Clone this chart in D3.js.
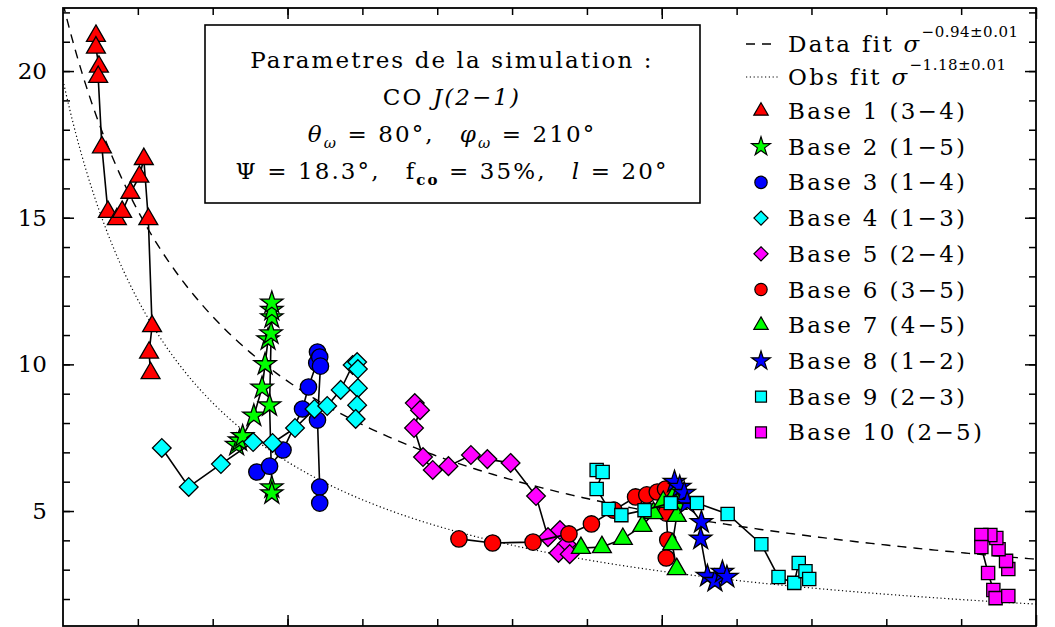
<!DOCTYPE html>
<html>
<head>
<meta charset="utf-8">
<script src="https://cdn.jsdelivr.net/npm/d3@7"></script>
<style>
  html, body { margin: 0; padding: 0; background: #fff; }
  svg { display: block; }
  text { font-family: "DejaVu Serif", serif; fill: #000; }
</style>
</head>
<body>
<svg id="chart" width="1055" height="627"></svg>
<script>
// ---- data: velocity dispersion tracks per baseline ([x, value]) ----
const base1 = [[2.44,21.2],[2.44,20.8],[2.48,20.15],[2.47,19.8],[2.52,17.4],[2.60,15.2],[2.72,14.95],[2.79,15.2],[2.90,15.85],[3.02,16.4],[3.08,17.0],[3.14,14.95],[3.19,11.3],[3.15,10.4],[3.17,9.7]];
const base2 = [[4.32,7.25],[4.36,7.4],[4.40,7.55],[4.55,8.25],[4.66,9.2],[4.70,10.0],[4.74,10.85],[4.78,11.05],[4.79,11.6],[4.79,11.85],[4.79,12.1],[4.76,8.6],[4.79,5.8],[4.79,5.6]];
const base3 = [[4.59,6.33],[4.76,6.53],[4.94,7.08],[5.20,8.48],[5.28,9.23],[5.39,10.05],[5.40,10.42],[5.43,10.25],[5.44,9.94],[5.40,8.10],[5.43,5.82],[5.43,5.27]];
const base4 = [[3.32,7.15],[3.68,5.82],[4.11,6.60],[4.54,7.35],[4.80,7.32],[5.10,7.83],[5.36,8.48],[5.53,8.58],[5.71,9.13],[5.87,9.98],[5.93,10.08],[5.94,9.84],[5.94,9.19],[5.93,8.61],[5.91,8.14]];
const base5 = [[6.70,8.68],[6.77,8.44],[6.69,7.83],[6.81,6.84],[6.94,6.40],[7.15,6.53],[7.45,6.91],[7.67,6.77],[7.98,6.64],[8.32,5.51],[8.48,4.11],[8.64,4.35],[8.73,3.87],[8.62,3.57],[8.77,3.53]];
const base6 = [[7.29,4.05],[7.74,3.91],[8.28,3.94],[8.76,4.22],[9.06,4.56],[9.36,5.03],[9.65,5.48],[9.80,5.55],[9.94,5.65],[10.05,5.75],[10.06,4.93],[10.08,4.01],[10.06,3.40]];
const base7 = [[8.92,3.74],[9.20,3.77],[9.48,4.05],[9.74,4.49],[9.89,4.93],[10.02,5.31],[10.18,5.61],[10.21,5.24],[10.20,4.83],[10.14,3.87],[10.20,3.02]];
const base8 = [[10.17,5.99],[10.24,5.82],[10.30,5.61],[10.34,5.27],[10.53,4.62],[10.52,4.05],[10.61,2.78],[10.71,2.61],[10.81,2.92],[10.87,2.75]];
const base9 = [[9.13,6.40],[9.21,6.33],[9.13,5.75],[9.29,5.07],[9.46,4.86],[9.77,5.03],[10.12,5.27],[10.47,5.27],[10.88,4.90],[11.33,3.87],[11.56,2.75],[11.77,2.55],[11.83,3.23],[11.92,2.95],[11.97,2.68]];
const base10 = [[14.63,3.02],[14.60,3.30],[14.50,3.70],[14.47,4.08],[14.39,4.18],[14.27,4.18],[14.27,3.77],[14.36,2.89],[14.43,2.31],[14.46,2.03],[14.63,2.10]];

const seriesLabels = ["Base 1 (3\u22124)","Base 2 (1\u22125)","Base 3 (1\u22124)","Base 4 (1\u22123)","Base 5 (2\u22124)",
                      "Base 6 (3\u22125)","Base 7 (4\u22125)","Base 8 (1\u22122)","Base 9 (2\u22123)","Base 10 (2\u22125)"];
const seriesData = [base1, base2, base3, base4, base5, base6, base7, base8, base9, base10];

// power-law fits  value = amp * x^exp
const dataFitAmp = 42.8, dataFitExp = -0.94;
const obsFitAmp = 44.6, obsFitExp = -1.18;
const fitLabels = ["Data fit ", "Obs fit "];
const fitSupers = ["\u22120.94\u00b10.01", "\u22121.18\u00b10.01"];

const yMajorTicks = [5, 10, 15, 20];
const yMinorTicks = d3.range(2, 23);
const xMajorTicks = [5, 10, 15];
const xMinorTicks = d3.range(3, 15);

// ---- layout ----
const W = 1055, H = 627;
const plot = { left: 63, right: 1036, top: 8, bottom: 626 };

const svg = d3.select("#chart");
const x = d3.scaleLinear().domain([2, 15]).range([plot.left, plot.right]);
const y = d3.scaleLinear().domain([1.08, 22.15]).range([plot.bottom, plot.top]);

// marker shapes
const symDiamond = { draw(ctx, size) { const r = Math.sqrt(size / 2); ctx.moveTo(0, -r); ctx.lineTo(r, 0); ctx.lineTo(0, r); ctx.lineTo(-r, 0); ctx.closePath(); } };
const symSquare = { draw(ctx, size) { const h = Math.sqrt(size) / 2; ctx.rect(-h, -h, 2 * h, 2 * h); } };

const styles = [
  { type: d3.symbolTriangle, fill: "#ff0000", size: 155, lsize: 90 },
  { type: d3.symbolStar,     fill: "#00ff00", size: 155, lsize: 110 },
  { type: d3.symbolCircle,   fill: "#0000ff", size: 210, lsize: 120 },
  { type: symDiamond,        fill: "#00ffff", size: 175, lsize: 100 },
  { type: symDiamond,        fill: "#ff00ff", size: 175, lsize: 100 },
  { type: d3.symbolCircle,   fill: "#ff0000", size: 210, lsize: 120 },
  { type: d3.symbolTriangle, fill: "#00ff00", size: 155, lsize: 90 },
  { type: d3.symbolStar,     fill: "#0000ff", size: 155, lsize: 110 },
  { type: symSquare,         fill: "#00ffff", size: 175, lsize: 120 },
  { type: symSquare,         fill: "#ff00ff", size: 175, lsize: 120 }
];

svg.append("defs").append("clipPath").attr("id", "plotClip")
  .append("rect").attr("x", plot.left).attr("y", plot.top)
  .attr("width", plot.right - plot.left).attr("height", plot.bottom - plot.top);

// ---- fit curves ----
const fitX = d3.range(2, 15.001, 0.05);
const curve = (amp, ex) => d3.line().x(d => x(d)).y(d => y(amp * Math.pow(d, ex)));
const fits = svg.append("g").attr("clip-path", "url(#plotClip)");
fits.append("path").attr("d", curve(dataFitAmp, dataFitExp)(fitX))
  .attr("fill", "none").attr("stroke", "#000").attr("stroke-width", 1.4).attr("stroke-dasharray", "9,7");
fits.append("path").attr("d", curve(obsFitAmp, obsFitExp)(fitX))
  .attr("fill", "none").attr("stroke", "#000").attr("stroke-width", 1.2).attr("stroke-dasharray", "1.2,2.6");

// ---- tracks ----
const track = d3.line().x(d => x(d[0])).y(d => y(d[1]));
seriesData.forEach((data, i) => {
  const st = styles[i];
  const g = svg.append("g");
  g.append("path").attr("d", track(data)).attr("fill", "none").attr("stroke", "#000").attr("stroke-width", 1.6);
  g.selectAll("path.m").data(data).join("path").attr("class", "m")
    .attr("d", d3.symbol().type(st.type).size(st.size))
    .attr("transform", d => `translate(${x(d[0])},${y(d[1])})`)
    .attr("fill", st.fill).attr("stroke", "#000").attr("stroke-width", 1.3);
});

// ---- axes (ticks inward on all four sides) ----
function axisGroup(axis, tx, ty) {
  const g = svg.append("g").attr("transform", `translate(${tx},${ty})`).call(axis);
  g.select(".domain").remove();
  g.selectAll(".tick line").attr("stroke", "#000").attr("stroke-width", 1.5);
  return g;
}
axisGroup(d3.axisLeft(y).tickValues(yMinorTicks).tickSize(-7).tickFormat(""), plot.left, 0);
axisGroup(d3.axisRight(y).tickValues(yMinorTicks).tickSize(-7).tickFormat(""), plot.right, 0);
axisGroup(d3.axisRight(y).tickValues(yMajorTicks).tickSize(-11).tickFormat(""), plot.right, 0);
const yLab = axisGroup(d3.axisLeft(y).tickValues(yMajorTicks).tickSize(-11).tickPadding(16).tickFormat(d3.format("d")), plot.left, 0);
yLab.selectAll(".tick text").attr("font-family", "DejaVu Serif, serif").attr("font-size", 23).attr("fill", "#000");
axisGroup(d3.axisTop(x).tickValues(xMinorTicks).tickSize(-7).tickFormat(""), 0, plot.top);
axisGroup(d3.axisTop(x).tickValues(xMajorTicks).tickSize(-11).tickFormat(""), 0, plot.top);
axisGroup(d3.axisBottom(x).tickValues(xMinorTicks).tickSize(-7).tickFormat(""), 0, plot.bottom);
axisGroup(d3.axisBottom(x).tickValues(xMajorTicks).tickSize(-11).tickFormat(""), 0, plot.bottom);

svg.append("rect").attr("x", plot.left).attr("y", plot.top)
  .attr("width", plot.right - plot.left).attr("height", plot.bottom - plot.top)
  .attr("fill", "none").attr("stroke", "#000").attr("stroke-width", 1.8);

// ---- parameter box ----
const box = svg.append("g");
box.append("rect").attr("x", 205).attr("y", 25).attr("width", 495).attr("height", 178)
  .attr("fill", "#fff").attr("stroke", "#000").attr("stroke-width", 1.6);
const cx = 452;
const bt = (yy) => box.append("text").attr("x", cx).attr("y", yy).attr("text-anchor", "middle")
  .attr("font-size", 23).attr("letter-spacing", 2.1);
bt(68).text("Parametres de la simulation :");
const l2 = bt(105);
l2.append("tspan").text("CO ");
l2.append("tspan").attr("font-style", "italic").text("J(2\u22121)");
const l3 = bt(142);
l3.append("tspan").attr("font-style", "italic").text("\u03b8");
l3.append("tspan").attr("font-style", "italic").attr("font-size", 15).attr("dy", 6).text("\u03c9");
l3.append("tspan").attr("dy", -6).text(" = 80\u00b0,\u2003");
l3.append("tspan").attr("font-style", "italic").text("\u03c6");
l3.append("tspan").attr("font-style", "italic").attr("font-size", 15).attr("dy", 6).text("\u03c9");
l3.append("tspan").attr("dy", -6).text(" = 210\u00b0");
const l4 = bt(179);
l4.append("tspan").text("\u03a8 = 18.3\u00b0,\u2003f");
l4.append("tspan").attr("font-weight", "bold").attr("font-size", 15).attr("dy", 6).text("co");
l4.append("tspan").attr("dy", -6).text(" = 35%,\u2003");
l4.append("tspan").attr("font-style", "italic").text("l");
l4.append("tspan").text(" = 20\u00b0");

// ---- legend ----
const leg = svg.append("g");
const legTextX = 788, legSymX = 761;
const legText = (yy) => leg.append("text").attr("x", legTextX).attr("y", yy + 8)
  .attr("font-size", 23).attr("letter-spacing", 2.3);
[[44, "9,7", 1.4], [77, "1.2,2.6", 1.2]].forEach(([yy, dash, sw], i) => {
  leg.append("line").attr("x1", 746).attr("x2", 778).attr("y1", yy).attr("y2", yy)
    .attr("stroke", "#000").attr("stroke-width", sw).attr("stroke-dasharray", dash);
  const t = legText(yy);
  t.append("tspan").text(fitLabels[i]);
  t.append("tspan").attr("font-style", "italic").text("\u03c3");
  t.append("tspan").attr("font-size", 15).attr("letter-spacing", 0.5).attr("dy", -15).text(fitSupers[i]);
});
seriesLabels.forEach((lab, i) => {
  const yy = 111 + i * 35.7;
  const st = styles[i];
  leg.append("path").attr("d", d3.symbol().type(st.type).size(st.lsize))
    .attr("transform", `translate(${legSymX},${yy})`)
    .attr("fill", st.fill).attr("stroke", "#000").attr("stroke-width", 1.2);
  legText(yy).text(lab);
});
</script>
</body>
</html>
